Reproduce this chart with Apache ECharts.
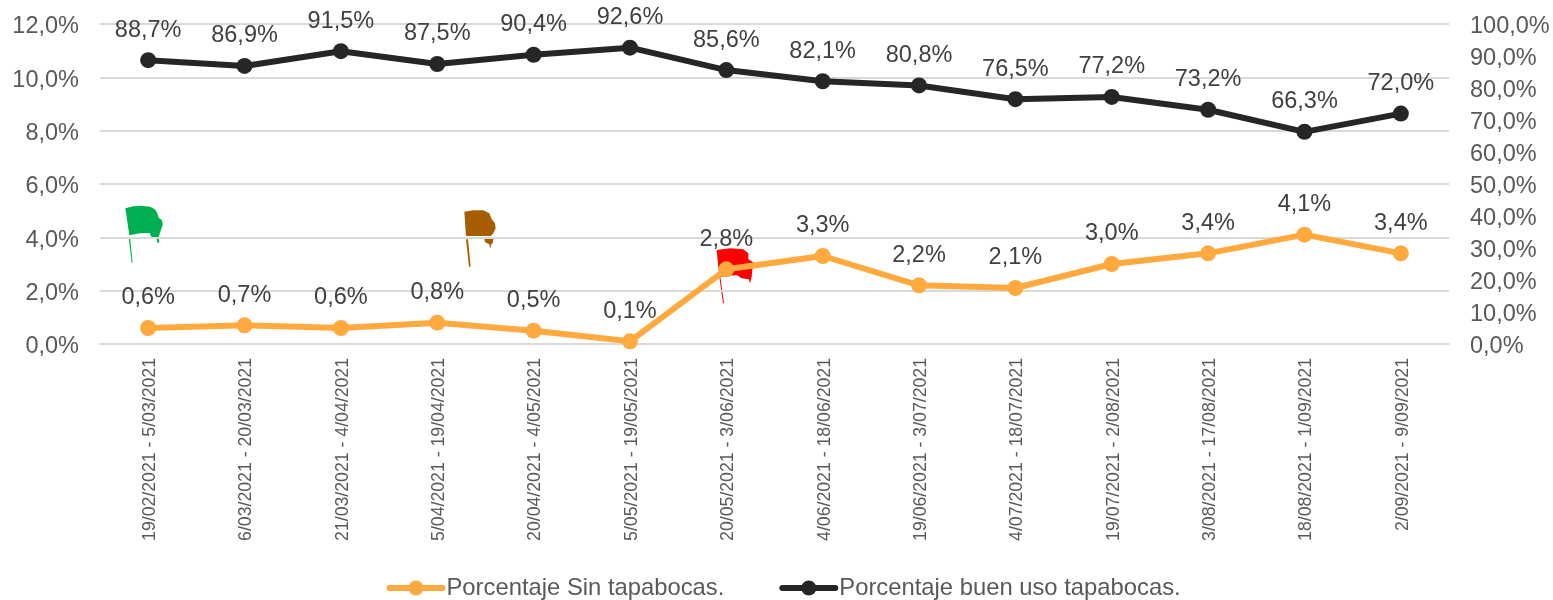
<!DOCTYPE html>
<html>
<head>
<meta charset="utf-8">
<style>html,body{margin:0;padding:0;background:#fff}#c{width:1553px;height:600px}</style>
<script src="https://cdn.jsdelivr.net/npm/echarts@6/dist/echarts.min.js"></script>
</head>
<body>
<div id="c"></div>
<script>
const categories = ["19/02/2021 - 5/03/2021","6/03/2021 - 20/03/2021","21/03/2021 - 4/04/2021","5/04/2021 - 19/04/2021","20/04/2021 - 4/05/2021","5/05/2021 - 19/05/2021","20/05/2021 - 3/06/2021","4/06/2021 - 18/06/2021","19/06/2021 - 3/07/2021","4/07/2021 - 18/07/2021","19/07/2021 - 2/08/2021","3/08/2021 - 17/08/2021","18/08/2021 - 1/09/2021","2/09/2021 - 9/09/2021"];
const sinTapabocas = [0.6,0.7,0.6,0.8,0.5,0.1,2.8,3.3,2.2,2.1,3.0,3.4,4.1,3.4];
const buenUso = [88.7,86.9,91.5,87.5,90.4,92.6,85.6,82.1,80.8,76.5,77.2,73.2,66.3,72.0];
const FONT = '"Liberation Sans", Arial, sans-serif';
const fmt = v => v.toFixed(1).replace('.', ',') + '%';

// decorative flag pictures, outlined in 3x crop units: [originX, originY, colour, outlines]
const flags = [
  [100,190,'#00b050',[
    [[76,55],[100,49],[125,47],[150,50],[165,58],[172,70],[175,82],[187,92],[188,105],[181,125],[176,140],[178,158],[172,158],[170,146],[152,139],[150,129],[120,130],[88,136]],
    [[86,142],[90,142],[98,218],[95,218]]
  ]],
  [440,195,'#a65e00',[
    [[73,50],[100,46],[130,46],[148,55],[155,72],[165,85],[167,100],[160,115],[152,123],[78,123]],
    [[133,131],[160,131],[158,145],[154,147],[152,158],[150,158],[148,148],[135,141]],
    [[78,133],[84,133],[92,215],[87,215]]
  ]],
  [680,220,'#ff0000',[
    [[110,90],[150,85],[190,88],[205,100],[205,118],[222,128],[218,140],[215,170],[210,190],[206,178],[185,175],[170,165],[125,170],[118,170]],
    [[118,170],[121,170],[132,250],[129,250]]
  ]]
];
const flagGraphics = [];
flags.forEach(([ox,oy,color,outlines]) => outlines.forEach(pts => flagGraphics.push({
  type:'polygon', silent:true, z:-1,
  shape:{points:pts.map(p=>[ox+p[0]/3, oy+p[1]/3])},
  style:{fill:color}
})));

const lineSeries = (name,data,color,yAxisIndex) => ({
  name, type:'line', data, yAxisIndex,
  symbol:'circle', symbolSize:16,
  lineStyle:{color,width:6,cap:'round'},
  itemStyle:{color},
  label:{show:true,position:'top',distance:10,fontFamily:FONT,fontSize:23.5,color:'#404040',formatter:p=>fmt(p.value)},
  emphasis:{disabled:true}, animation:false
});

const chart = echarts.init(document.getElementById('c'));
chart.setOption({
  animation:false,
  backgroundColor:'#fff',
  graphic:flagGraphics,
  grid:{left:100,right:104,top:24,bottom:256,containLabel:false},
  legend:{
    left:381.5, top:571, itemWidth:53, itemHeight:19, itemGap:55,
    lineStyle:{width:6,cap:'round'},
    textStyle:{fontFamily:FONT,fontSize:23.8,color:'#595959',padding:[0,0,0,-1]},
    data:['Porcentaje Sin tapabocas.','Porcentaje buen uso tapabocas.']
  },
  xAxis:{
    type:'category', data:categories, boundaryGap:true,
    axisTick:{show:false},
    axisLine:{lineStyle:{color:'#d9d9d9',width:2}},
    axisLabel:{rotate:90,interval:0,margin:14,fontFamily:FONT,fontSize:17.7,color:'#595959',verticalAlign:'top',lineHeight:18,padding:[-7,0,0,0]}
  },
  yAxis:[
    {type:'value',min:0,max:12,interval:2,
     axisLine:{show:false},axisTick:{show:false},
     splitLine:{lineStyle:{color:'#d9d9d9',width:2}},
     axisLabel:{margin:21,fontFamily:FONT,fontSize:23.5,color:'#595959',verticalAlign:'top',lineHeight:24,padding:[-9,0,0,0],formatter:fmt}},
    {type:'value',min:0,max:100,interval:10,position:'right',
     axisLine:{show:false},axisTick:{show:false},splitLine:{show:false},
     axisLabel:{margin:21,fontFamily:FONT,fontSize:23.5,color:'#595959',verticalAlign:'top',lineHeight:24,padding:[-9,0,0,0],formatter:fmt}}
  ],
  series:[
    lineSeries('Porcentaje Sin tapabocas.',sinTapabocas,'#ffa93f',0),
    lineSeries('Porcentaje buen uso tapabocas.',buenUso,'#262626',1)
  ]
});
</script>
</body>
</html>
